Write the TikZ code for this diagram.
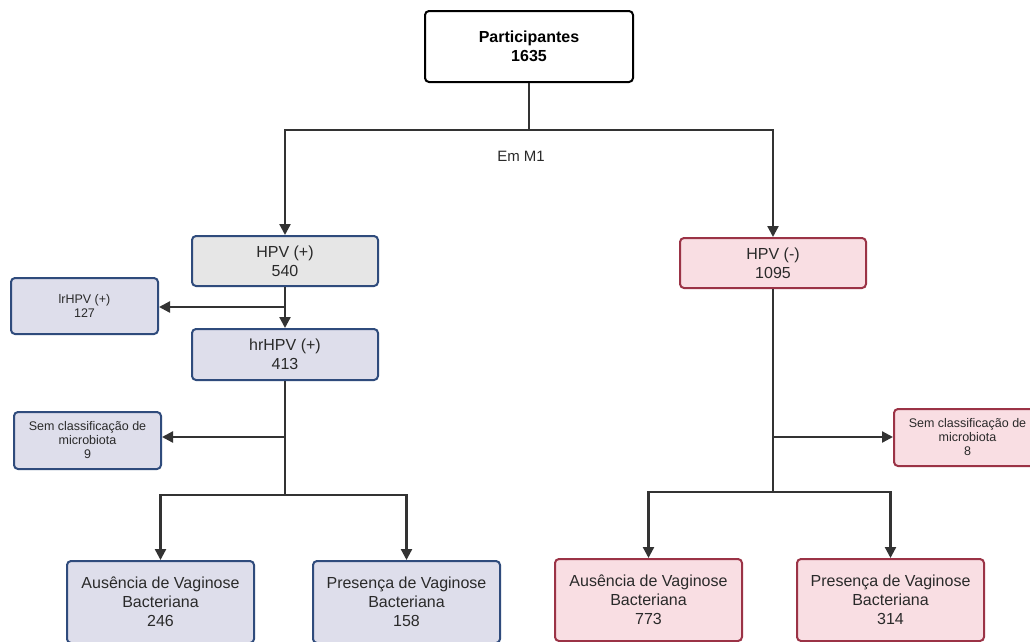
\documentclass[tikz,border=0pt]{standalone}
\usepackage{fontspec}
\setmainfont{Liberation Sans}
\usetikzlibrary{arrows.meta}
\definecolor{bblue}{HTML}{2F4B7C}
\definecolor{rred}{HTML}{9B3346}
\definecolor{grayf}{HTML}{E6E6E6}
\definecolor{lavf}{HTML}{DEDEEB}
\definecolor{pinkf}{HTML}{F9DEE3}
\definecolor{lc}{HTML}{333333}
\definecolor{tc}{HTML}{2A2A2A}
\tikzset{
  box/.style={draw, rounded corners=4pt, line width=2pt, align=center, inner sep=2pt, text=tc,
    font=\fontsize{16}{19}\selectfont},
  smallbox/.style={box, font=\fontsize{12.5}{14}\selectfont},
  bluec/.style={draw=bblue, fill=lavf},
  redc/.style={draw=rred, fill=pinkf},
  conn/.style={draw=lc, line width=2.3pt},
  arr/.style={conn, -{Triangle[length=11pt,width=11pt]}},
}
\begin{document}
\begin{tikzpicture}[x=1pt,y=-1pt]
\useasboundingbox (0,0) rectangle (1030,641);
\clip (0,0) rectangle (1030,641);
\fill[white] (0,0) rectangle (1030,641);

\node[box, draw=black, fill=white, minimum width=208pt, minimum height=71pt,
  font=\bfseries\fontsize{16}{19}\selectfont, text=black] (part) at (529,46.5) {Participantes\\1635};
\node[box, draw=bblue, fill=grayf, minimum width=186pt, minimum height=50pt] (hpvp) at (285,261) {HPV (+)\\540};
\node[box, redc, minimum width=186pt, minimum height=50pt] (hpvn) at (773,263) {HPV (-)\\1095};
\node[smallbox, bluec, minimum width=147pt, minimum height=56pt] (lr) at (84.5,306) {lrHPV (+)\\127};
\node[box, bluec, minimum width=186pt, minimum height=51pt] (hr) at (285,354.5) {hrHPV (+)\\413};
\node[smallbox, bluec, minimum width=147pt, minimum height=57pt] (sem1) at (87.5,440.5) {Sem classificação de\\microbiota\\9};
\node[smallbox, redc, minimum width=147pt, minimum height=57pt] (sem2) at (967.5,437.5) {Sem classificação de\\microbiota\\8};
\node[box, bluec, minimum width=187pt, minimum height=82pt] (aus1) at (160.5,602) {Ausência de Vaginose\\Bacteriana\\246};
\node[box, bluec, minimum width=187pt, minimum height=82pt] (pres1) at (406.5,602) {Presença de Vaginose\\Bacteriana\\158};
\node[box, redc, minimum width=187pt, minimum height=82pt] (aus2) at (648.5,600) {Ausência de Vaginose\\Bacteriana\\773};
\node[box, redc, minimum width=187pt, minimum height=82pt] (pres2) at (890.5,600) {Presença de Vaginose\\Bacteriana\\314};

\node[font=\fontsize{15}{18}\selectfont, text=tc] (em) at (521,156) {Em M1};

\coordinate (s1) at (529,130);
\draw[conn] (part) -- (s1);
\draw[arr] (s1) -| (hpvp);
\draw[arr] (s1) -| (hpvn);

\draw[arr] (hpvp) -- (hr);
\coordinate (b1) at (285,307);
\draw[arr] (b1) -- (lr.east |- b1);
\coordinate (j1) at (285,495);
\draw[conn] (hr) -- (j1);
\coordinate (b2) at (285,437);
\draw[arr] (b2) -- (sem1.east |- b2);
\draw[arr] (j1) -| (aus1);
\draw[arr] (j1) -| (pres1);

\coordinate (j2) at (773,492);
\draw[conn] (hpvn) -- (j2);
\coordinate (b3) at (773,437);
\draw[arr] (b3) -- (sem2.west |- b3);
\draw[arr] (j2) -| (aus2);
\draw[arr] (j2) -| (pres2);
\end{tikzpicture}
\end{document}
